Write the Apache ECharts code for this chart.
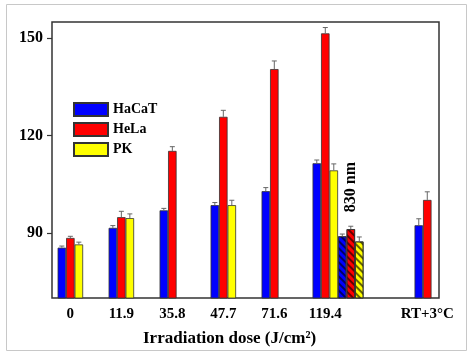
<!DOCTYPE html>
<html>
<head>
<meta charset="utf-8">
<script src="https://cdn.jsdelivr.net/npm/echarts@6/dist/echarts.min.js"></script>
<style>html,body{margin:0;padding:0;background:#fff;}#c{width:476px;height:359px;}</style>
</head>
<body>
<div id="c"></div>
<script>
// ---- data ----
var categories = ['0', '11.9', '35.8', '47.7', '71.6', '119.4', '830 nm', 'RT+3°C'];
var positions  = [0, 1, 2, 3, 4, 5, 5.5, 7];          // group positions on the dose axis
var hatched    = [false, false, false, false, false, false, true, false];
var hacat      = [85.5, 91.6, 97.0, 98.6, 102.9, 111.5, 89.0, 92.4];
var hela       = [88.5, 94.9, 115.3, 125.8, 140.5, 151.5, 91.2, 100.2];
var pk         = [86.5, 94.6, null, 98.6, null, 109.3, 87.4, null];
var hacatErr   = [0.5, 0.7, 0.6, 0.8, 1.1, 1.0, 0.7, 2.0];
var helaErr    = [0.5, 1.8, 1.3, 2.0, 2.5, 1.8, 0.9, 2.5];
var pkErr      = [0.7, 1.3, null, 1.5, null, 2.0, 1.4, null];
var seriesNames = ['HaCaT', 'HeLa', 'PK'];
var yTicks = [90, 120, 150];
var labelPositions = [0, 1, 2, 3, 4, 5, 7];

var colors = ['#0000ff', '#ff0000', '#ffff00'];
var BAR_W = 8.5;
var FONT = 'Liberation Serif';

function decal() {
  return { symbol: 'rect', color: 'rgba(0,0,0,0.6)', dashArrayX: [1, 0], dashArrayY: [1.3, 2.2], rotation: Math.PI / 4 };
}

function barData(vals, sIdx) {
  var out = [];
  for (var i = 0; i < vals.length; i++) {
    if (vals[i] == null) continue;
    var item = { value: [positions[i], vals[i]] };
    if (hatched[i]) {
      item.itemStyle = { decal: decal() };
      if (sIdx === 1) {
        item.label = { show: true, position: 'top', rotate: 90, align: 'left', verticalAlign: 'middle',
          distance: 17, formatter: '830 nm', color: '#000', fontFamily: FONT, fontWeight: 'bold', fontSize: 16 };
      }
    }
    out.push(item);
  }
  return out;
}

function errData(vals, errs) {
  var out = [];
  for (var i = 0; i < vals.length; i++) {
    if (vals[i] == null || errs[i] == null) continue;
    out.push([positions[i], vals[i], errs[i]]);
  }
  return out;
}

var allVals = [hacat, hela, pk];
var allErrs = [hacatErr, helaErr, pkErr];
var series = [];
for (var s = 0; s < 3; s++) {
  series.push({
    name: seriesNames[s], type: 'bar', barWidth: BAR_W, barGap: 0,
    itemStyle: { color: colors[s], borderColor: '#333', borderWidth: 0.8 },
    data: barData(allVals[s], s), z: 2
  });
}
for (var s2 = 0; s2 < 3; s2++) {
  (function (si) {
    series.push({
      type: 'custom', z: 3, silent: true,
      data: errData(allVals[si], allErrs[si]),
      renderItem: function (params, api) {
        var x = api.value(0), y = api.value(1), e = api.value(2);
        var p0 = api.coord([x, y]);
        var p1 = api.coord([x, y + e]);
        var off = (si - 1) * BAR_W;
        var cx = p0[0] + off;
        var style = { stroke: '#666', lineWidth: 1 };
        return { type: 'group', children: [
          { type: 'line', shape: { x1: cx, y1: p0[1], x2: cx, y2: p1[1] }, style: style },
          { type: 'line', shape: { x1: cx - 2.5, y1: p1[1], x2: cx + 2.5, y2: p1[1] }, style: style }
        ] };
      }
    });
  })(s2);
}

var chart = echarts.init(document.getElementById('c'));
chart.setOption({
  animation: false,
  backgroundColor: '#fff',
  graphic: [{ type: 'rect', shape: { x: 6.5, y: 4.5, width: 460, height: 346 },
    style: { fill: 'none', stroke: '#c8c8c8', lineWidth: 1 }, z: -10 }],
  title: { text: 'Irradiation dose (J/cm²)', left: 138, top: 325,
    textStyle: { fontFamily: FONT, fontWeight: 'bold', fontSize: 17, color: '#000' } },
  legend: {
    data: seriesNames, orient: 'vertical', left: 68, top: 97, itemWidth: 34, itemHeight: 13, itemGap: 5,
    icon: 'rect',
    textStyle: { fontFamily: FONT, fontWeight: 'bold', fontSize: 14, color: '#000' }
  },
  grid: { left: 52, top: 22, right: 37, bottom: 61, show: true, borderColor: '#333', borderWidth: 1.5, containLabel: false },
  xAxis: {
    type: 'value', min: -0.36, max: 7.23,
    axisLine: { show: false, onZero: false }, axisTick: { show: false }, splitLine: { show: false },
    axisLabel: {
      customValues: labelPositions, margin: 9,
      formatter: function (v) { var i = positions.indexOf(v); return i >= 0 ? categories[i] : ''; },
      fontFamily: FONT, fontWeight: 'bold', fontSize: 15, color: '#000'
    }
  },
  yAxis: {
    type: 'value', min: 70, max: 155,
    axisLine: { show: false, onZero: false }, splitLine: { show: false },
    axisTick: { show: true, inside: false, length: 5, customValues: yTicks, lineStyle: { color: '#333', width: 1.2 } },
    axisLabel: { customValues: yTicks, margin: 9, fontFamily: FONT, fontWeight: 'bold', fontSize: 16, color: '#000' }
  },
  series: series
});
</script>
</body>
</html>
